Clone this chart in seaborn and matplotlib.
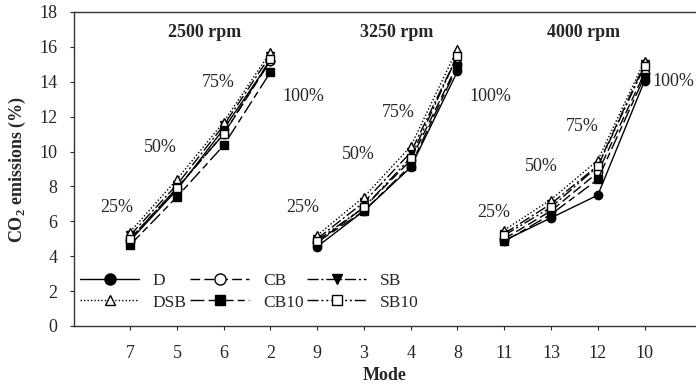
import matplotlib
matplotlib.use("Agg")
import matplotlib.pyplot as plt
import seaborn as sns
import pandas as pd
import numpy as np

modes = ["7", "5", "6", "2", "9", "3", "4", "8", "11", "13", "12", "10"]
groups = ["2500 rpm"] * 4 + ["3250 rpm"] * 4 + ["4000 rpm"] * 4
loads = ["25%", "50%", "75%", "100%"]

D = [4.9, 7.8, 11.3, 15.2, 4.55, 6.6, 9.1, 14.6, 4.9, 6.2, 7.5, 14.05]
CB = [5.0, 7.9, 11.0, 15.2, 4.8, 6.8, 9.5, 15.0, 5.0, 6.6, 8.8, 14.5]
SB = [5.2, 8.1, 11.5, 15.5, 5.0, 7.1, 9.95, 15.5, 5.3, 7.0, 9.2, 15.0]
DSB = [5.4, 8.4, 11.7, 15.7, 5.2, 7.4, 10.3, 15.9, 5.5, 7.25, 9.5, 15.2]
CB10 = [4.65, 7.4, 10.35, 14.55, 4.8, 6.6, 9.2, 14.9, 4.85, 6.4, 8.4, 14.3]
SB10 = [5.0, 7.9, 11.0, 15.3, 4.9, 6.8, 9.65, 15.5, 5.2, 6.8, 9.15, 14.9]

series = {"D": D, "CB": CB, "SB": SB, "DSB": DSB, "CB10": CB10, "SB10": SB10}
# column-major order so rows read: D CB SB / DSB CB10 SB10
legend_order = ["D", "DSB", "CB", "CB10", "SB", "SB10"]

styles = {
    "D": dict(marker="o", mfc="black", dashes=(None, None)),
    "CB": dict(marker="o", mfc="white", dashes=(7, 3)),
    "SB": dict(marker="v", mfc="black", dashes=(8, 2, 1.5, 2)),
    "DSB": dict(marker="^", mfc="white", dashes=(1, 1.5)),
    "CB10": dict(marker="s", mfc="black", dashes=(10, 3, 5, 3)),
    "SB10": dict(marker="s", mfc="white", dashes=(8, 2, 1.5, 2, 1.5, 2)),
}

rows = []
for name, vals in series.items():
    for i, (m, g, v) in enumerate(zip(modes, groups, vals)):
        rows.append(dict(series=name, pos=i, group=g, value=v))
df = pd.DataFrame(rows)

sns.set_style("ticks")
plt.rcParams["font.family"] = ["Liberation Serif", "DejaVu Serif"]
plt.rcParams["mathtext.fontset"] = "custom"
plt.rcParams["mathtext.rm"] = "Liberation Serif"
plt.rcParams["mathtext.bf"] = "Liberation Serif:bold"

fig = plt.figure(figsize=(6.96, 3.85), dpi=100)
ax = fig.add_axes([74 / 696, 59 / 385, 622 / 696, 314 / 385])

handles = {}
for name in ["D", "CB", "SB", "DSB", "CB10", "SB10"]:
    sub = df[df.series == name]
    st = styles[name]
    sns.lineplot(data=sub, x="pos", y="value", units="group", estimator=None,
                 ax=ax, color="black", lw=1.0, marker=st["marker"],
                 markersize=6, markerfacecolor=st["mfc"],
                 markeredgecolor="black", markeredgewidth=1.0, legend=False)
    for ln in ax.lines[-3:]:
        if st["dashes"][0] is not None:
            ln.set_dashes(st["dashes"])
        ln.set_label("_")
    h, = ax.plot([], [], color="black", lw=1.0, marker=st["marker"],
                 markersize=8 if st["marker"] == "o" else 7,
                 markerfacecolor=st["mfc"], markeredgecolor="black")
    if st["dashes"][0] is not None:
        h.set_dashes(st["dashes"])
    handles[name] = h

ax.set_xlim(-1.2, 12.1)
ax.set_ylim(0, 18)
ax.set_xticks(range(len(modes)))
ax.set_xticklabels(modes)
ax.set_yticks(np.arange(0, 19, 2))
ax.tick_params(axis="both", labelsize=13, direction="out", length=3, width=0.8)
ax.tick_params(axis="x", pad=11)
ax.tick_params(axis="y", pad=9)
ax.spines["right"].set_visible(False)
for s in ["left", "bottom", "top"]:
    ax.spines[s].set_linewidth(1.0)
    ax.spines[s].set_color("#333333")

ax.set_xlabel("Mode", fontsize=13, fontweight="bold", labelpad=3)
ax.set_ylabel(r"CO$_\mathbf{2}$ emissions (%)", fontsize=13, fontweight="bold", labelpad=8)

rpm_pos = [(1.6, 16.8), (5.7, 16.8), (9.7, 16.8)]
for (x, y), g in zip(rpm_pos, ["2500 rpm", "3250 rpm", "4000 rpm"]):
    ax.text(x, y, g, ha="center", va="center", fontsize=13, fontweight="bold")

def px2data(px, py):
    return (px - 130) / 46.8, (326 - py) / 17.39

load_px = [
    [(117, 208), (160, 148), (218, 83), (303, 97)],
    [(303, 208), (358, 155), (398, 113), (490, 97)],
    [(494, 213), (541, 167), (583, 127), (674, 82)],
]
for grp in load_px:
    for (px, py), lab in zip(grp, loads):
        x, y = px2data(px, py)
        ax.text(x, y, lab, ha="center", va="center", fontsize=13)

leg = ax.legend([handles[n] for n in legend_order], legend_order, ncol=3,
                loc="upper left", bbox_to_anchor=(80 / 696, 1 - 273 / 385),
                bbox_transform=fig.transFigure, frameon=False, fontsize=12.5,
                handlelength=3.4, handletextpad=0.8, columnspacing=0.2,
                labelspacing=0.3, borderpad=0, borderaxespad=0)

fig.savefig("out.png", dpi=100)
